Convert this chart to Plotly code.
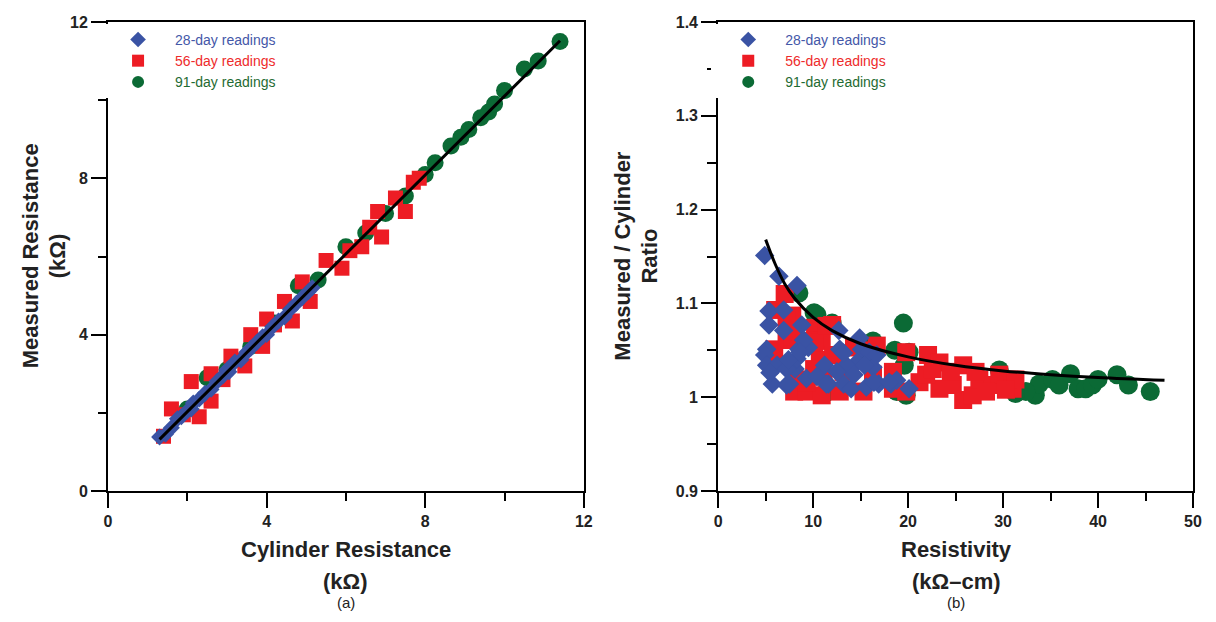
import plotly.graph_objects as go

# ---------------- data: panel (a) ----------------
a28_x = [1.30, 1.45, 1.60, 1.75, 1.85, 2.00, 2.10, 2.15, 2.30, 2.45, 2.60, 2.75, 2.90, 3.00, 3.05,
         3.20, 3.35, 3.50, 3.60, 3.75, 3.90, 4.00, 4.15, 4.30, 4.45, 4.60, 4.75, 4.90, 5.05, 5.15]
a28_y = [1.38, 1.45, 1.62, 1.85, 1.90, 2.05, 2.10, 2.25, 2.35, 2.50, 2.60, 2.80, 2.95, 3.10, 3.05,
         3.30, 3.35, 3.55, 3.65, 3.80, 3.95, 4.00, 4.20, 4.35, 4.45, 4.65, 4.80, 4.95, 5.10, 5.20]

a56_x = [1.40, 1.60, 2.10, 2.30, 2.60, 2.60, 3.10, 3.45, 3.60, 3.90, 4.00, 4.45, 4.65, 4.90, 5.10,
         5.50, 5.90, 6.10, 6.40, 6.60, 6.80, 6.90, 7.25, 7.50, 7.70, 7.85, 1.90, 2.90, 3.30, 4.20]
a56_y = [1.40, 2.10, 2.80, 1.90, 2.30, 3.00, 3.45, 3.20, 4.00, 3.70, 4.40, 4.85, 4.35, 5.35, 4.85,
         5.90, 5.70, 6.15, 6.25, 6.75, 7.15, 6.50, 7.50, 7.15, 7.90, 8.00, 1.95, 2.85, 3.35, 4.25]

a91_x = [2.00, 2.50, 3.00, 3.60, 4.20, 4.80, 5.30, 6.00, 6.50, 7.00, 7.50, 8.00, 8.25, 8.65, 8.90,
         9.10, 9.40, 9.60, 9.75, 10.00, 10.50, 10.85, 11.40]
a91_y = [2.10, 2.90, 3.10, 3.70, 4.30, 5.25, 5.40, 6.25, 6.60, 7.10, 7.55, 8.10, 8.40, 8.83, 9.05,
         9.25, 9.55, 9.70, 9.90, 10.25, 10.80, 11.00, 11.50]

a_fit_x = [1.30, 11.40]
a_fit_y = [1.32, 11.52]

# ---------------- data: panel (b) ----------------
b28_x = [4.9, 6.4, 8.3, 5.35, 6.9, 5.35, 6.9, 8.8, 5.1, 4.9, 8.5, 5.1, 6.2, 5.7, 7.2, 8.1, 9.3, 9.5,
         9.0, 12.7, 12.8, 11.6, 13.2, 14.0, 14.9, 15.1, 14.6, 15.9, 16.3, 15.6, 16.9, 18.2, 18.8,
         20.1, 11.2, 10.4, 13.5, 14.3, 7.2, 8.3, 5.45, 7.4, 8.6, 7.5, 11.4, 13.2, 15.4, 16.4, 18.0,
         16.7, 12.5]
b28_y = [1.151, 1.129, 1.119, 1.092, 1.093, 1.077, 1.071, 1.077, 1.051, 1.045, 1.051, 1.034, 1.034,
         1.014, 1.013, 1.030, 1.020, 1.053, 1.061, 1.071, 1.051, 1.014, 1.014, 1.009, 1.063, 1.051,
         1.037, 1.048, 1.032, 1.011, 1.014, 1.014, 1.018, 1.009, 1.034, 1.022, 1.034, 1.024, 1.030,
         1.041, 1.026, 1.040, 1.048, 1.014, 1.014, 1.047, 1.034, 1.016, 1.016, 1.045, 1.027]

b56_x = [7.0, 6.0, 7.8, 7.2, 10.2, 12.0, 10.9, 10.7, 8.0, 9.3, 12.8, 16.3, 16.7, 19.8, 22.1, 23.3,
         25.8, 25.8, 26.8, 27.5, 28.9, 29.6, 31.0, 31.3, 21.2, 23.3, 24.7, 19.8, 18.4, 15.3, 10.9,
         5.7, 5.9, 9.9, 12.1, 14.3, 16.3, 18.4, 21.9, 22.6, 24.5, 27.1, 28.2, 30.3, 8.3, 9.3, 11.1,
         13.2, 7.2, 7.8, 10.1, 11.4, 10.1]
b56_y = [1.110, 1.093, 1.087, 1.061, 1.074, 1.077, 1.060, 1.040, 1.006, 1.006, 1.006, 1.050, 1.055,
         1.048, 1.045, 1.037, 1.034, 0.997, 1.002, 1.019, 1.013, 1.024, 1.009, 1.019, 1.016, 1.009,
         1.013, 1.006, 1.009, 1.006, 1.002, 1.037, 1.051, 1.060, 1.045, 1.053, 1.024, 1.027, 1.024,
         1.030, 1.027, 1.027, 1.006, 1.008, 1.019, 1.016, 1.022, 1.027, 1.082, 1.065, 1.058, 1.076,
         1.030]

b91_x = [8.5, 10.4, 12.0, 19.5, 16.3, 18.6, 20.1, 19.6, 29.6, 19.8, 18.8, 33.4, 33.8, 35.2, 35.9,
         37.1, 37.9, 38.7, 39.4, 40.0, 42.0, 43.2, 45.5, 32.4, 31.3, 11.2, 10.1, 15.6]
b91_y = [1.111, 1.088, 1.079, 1.079, 1.060, 1.050, 1.048, 1.034, 1.029, 1.002, 1.006, 1.002, 1.014,
         1.019, 1.013, 1.025, 1.009, 1.009, 1.013, 1.019, 1.024, 1.013, 1.006, 1.006, 1.004, 1.004,
         1.090, 1.037]

b_fit_x = [5, 6, 7, 8, 10, 12, 15, 20, 25, 30, 35, 40, 47]
b_fit_y = [1.168, 1.142, 1.121, 1.106, 1.085, 1.071, 1.057, 1.043, 1.034, 1.028, 1.024, 1.021, 1.018]

a_ticks = [0, 4, 8, 12]
b_xticks = [0, 10, 20, 30, 40, 50]
b_yticks = [0.9, 1.0, 1.1, 1.2, 1.3, 1.4]
b_yticklabels = ["0.9", "1", "1.1", "1.2", "1.3", "1.4"]

series_names = ["28-day readings", "56-day readings", "91-day readings"]

BLUE = "#3A53A4"
RED = "#ED1C24"
GREEN = "#0B6A35"
TXT_BLUE = "#4457A8"
TXT_RED = "#EE2B2B"
TXT_GREEN = "#1F6B32"
FONT = "Arial, Liberation Sans, Helvetica, sans-serif"

fig = go.Figure()


def add_panel(xs, ys, fx, fy, xa, ya, legend, sizes):
    # draw order: 91 (bottom), 56, 28 (top)
    specs = [
        (xs[2], ys[2], "circle", GREEN, TXT_GREEN, series_names[2], sizes[2]),
        (xs[1], ys[1], "square", RED, TXT_RED, series_names[1], sizes[1]),
        (xs[0], ys[0], "diamond", BLUE, TXT_BLUE, series_names[0], sizes[0]),
    ]
    for x, y, sym, col, tcol, name, sz in specs:
        fig.add_trace(go.Scatter(
            x=x, y=y, mode="markers", xaxis=xa, yaxis=ya, legend=legend,
            name=f'<span style="color:{tcol}">{name}</span>',
            marker=dict(symbol=sym, color=col, size=sz, line=dict(width=0)),
        ))
    fig.add_trace(go.Scatter(
        x=fx, y=fy, mode="lines", xaxis=xa, yaxis=ya, showlegend=False, legend=legend,
        line=dict(color="black", width=3, shape="spline"),
    ))


add_panel([a28_x, a56_x, a91_x], [a28_y, a56_y, a91_y], a_fit_x, a_fit_y, "x", "y", "legend",
          [13, 15, 17])
add_panel([b28_x, b56_x, b91_x], [b28_y, b56_y, b91_y], b_fit_x, b_fit_y, "x2", "y2", "legend2",
          [15, 18, 19])

axis_common = dict(
    showline=True, linecolor="black", linewidth=2, mirror=True,
    ticks="outside", ticklen=15, tickwidth=2, tickcolor="black",
    showgrid=False, zeroline=False, ticklabeloverflow="allow",
    tickfont=dict(family=FONT, size=16, color="#222"),
)


def bold(vals, labels=None):
    labels = labels or [str(v) for v in vals]
    return dict(tickmode="array", tickvals=vals, ticktext=[f"<b>{t}</b>" for t in labels])


def minor(d, t0, ln=8):
    return dict(tick0=t0, dtick=d, ticklen=ln, tickwidth=2, ticks="outside", tickcolor="black", showgrid=False)


L_DOM = [0, 478 / 1090]
R_DOM = [613 / 1090, 1]
PLOT_H = 477

fig.update_layout(
    width=1200, height=606,
    margin=dict(l=100, r=10, t=6, b=123),
    plot_bgcolor="rgba(0,0,0,0)",
    font=dict(family=FONT),
    xaxis=dict(domain=L_DOM, range=[0, 12], minor=minor(2, 0), anchor="y",
               **bold(a_ticks), **axis_common),
    yaxis=dict(domain=[0, 1], range=[0, 12], minor=minor(2, 0), anchor="x",
               **bold(a_ticks), **axis_common),
    xaxis2=dict(domain=R_DOM, range=[0, 50], minor=minor(5, 0), anchor="y2",
                **bold(b_xticks), **axis_common),
    yaxis2=dict(domain=[0, 1], range=[0.9, 1.4], minor=minor(0.05, 0.9, 9), anchor="x2",
                **bold(b_yticks, b_yticklabels), **axis_common),
    legend=dict(x=-0.0064, y=0.996, xanchor="left", yanchor="top", traceorder="reversed",
                font=dict(family=FONT, size=14), itemsizing="constant",
                tracegroupgap=0, itemwidth=64),
    legend2=dict(x=R_DOM[0] - 0.0064, y=0.996, xanchor="left", yanchor="top", traceorder="reversed",
                 font=dict(family=FONT, size=14), itemsizing="constant",
                 tracegroupgap=0, itemwidth=64),
    showlegend=True,
)


def px_x(px):
    return (px - 108) / 1090


def px_y(py):
    return (491 - py) / PLOT_H


ann = []
title_font = dict(family=FONT, size=22, color="#222")
# panel (a)
ann.append(dict(text="<b>Cylinder Resistance</b>", x=px_x(347), y=px_y(550), font=title_font))
ann.append(dict(text="<b>(kΩ)</b>", x=px_x(347), y=px_y(583), font=title_font))
ann.append(dict(text="(a)", x=px_x(347), y=px_y(604), font=dict(family=FONT, size=15, color="#222")))
ann.append(dict(text="<b>Measured Resistance</b>", x=px_x(30), y=px_y(252), textangle=-90, font=title_font))
ann.append(dict(text="<b>(kΩ)</b>", x=px_x(57), y=px_y(252), textangle=-90, font=title_font))
# panel (b)
ann.append(dict(text="<b>Resistivity</b>", x=px_x(960), y=px_y(550), font=title_font))
ann.append(dict(text="<b>(kΩ–cm)</b>", x=px_x(960), y=px_y(583), font=title_font))
ann.append(dict(text="(b)", x=px_x(960), y=px_y(604), font=dict(family=FONT, size=15, color="#222")))
ann.append(dict(text="<b>Measured / Cylinder</b>", x=px_x(624), y=px_y(252), textangle=-90, font=title_font))
ann.append(dict(text="<b>Ratio</b>", x=px_x(652), y=px_y(252), textangle=-90, font=title_font))

for a in ann:
    a.update(xref="paper", yref="paper", showarrow=False, xanchor="center", yanchor="middle")
fig.update_layout(annotations=ann)

fig.write_html("out.html")
